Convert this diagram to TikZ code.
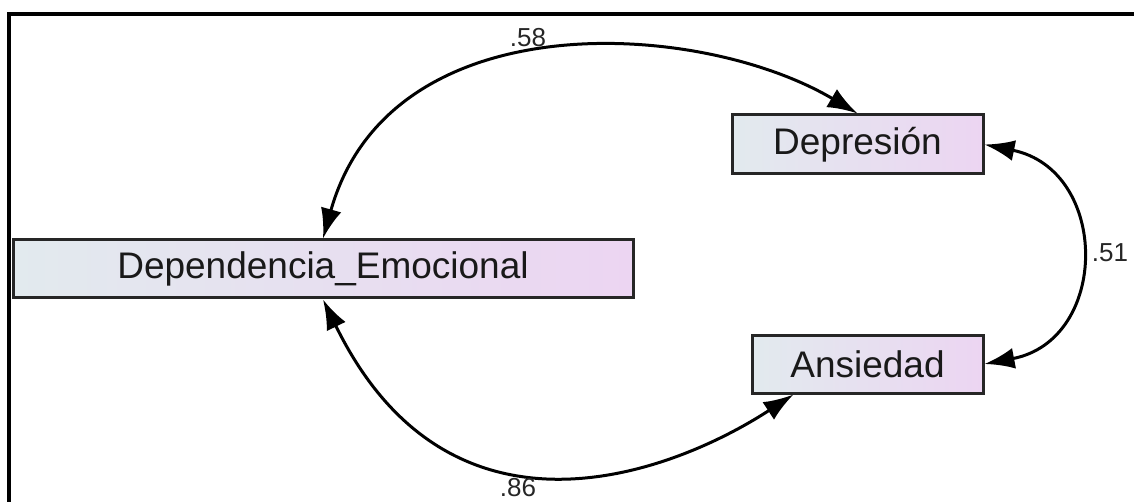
\documentclass[tikz,border=0pt]{standalone}
\usepackage{fontspec}
\setmainfont{Liberation Sans}
\usetikzlibrary{arrows.meta}
\begin{document}
\begin{tikzpicture}[x=1pt,y=-1pt,
  varbox/.style={draw=black!85,line width=3pt,left color=boxleft,right color=boxright,
    inner sep=0pt,font=\fontsize{37}{40}\selectfont,text=black!90},
  cov/.style={line width=3pt,{Latex[length=30pt,width=21pt]}-{Latex[length=30pt,width=21pt]}},
  coef/.style={font=\fontsize{26}{28}\selectfont,text=black!85}]
\definecolor{boxleft}{HTML}{E2EAEE}
\definecolor{boxright}{HTML}{ECD5F2}
\useasboundingbox (0,0) rectangle (1134,502);
\draw[line width=3.2pt] (9,502) |- (1134,14);
\node[varbox,minimum width=620pt,minimum height=58pt] (dep) at (323,269) {Dependencia\_Emocional};
\node[varbox,minimum width=251pt,minimum height=59pt] (depr) at (857.5,144.5) {Depresión};
\node[varbox,minimum width=231pt,minimum height=58pt] (ans) at (867.5,364) {Ansiedad};
\coordinate (ansb) at ([xshift=-74pt]ans.south);
\draw[cov] (dep.north) .. controls (390,0) and (700,20) .. (depr.north);
\draw[cov] (depr.east) .. controls (1110,170) and (1110,340) .. (ans.east);
\draw[cov] (dep.south) .. controls (450,560) and (673,473) .. (ansb);
\node[coef] (l58) at (528,38) {.58};
\node[coef] (l51) at (1110,253) {.51};
\node[coef] (l86) at (518,488) {.86};
\end{tikzpicture}
\end{document}
